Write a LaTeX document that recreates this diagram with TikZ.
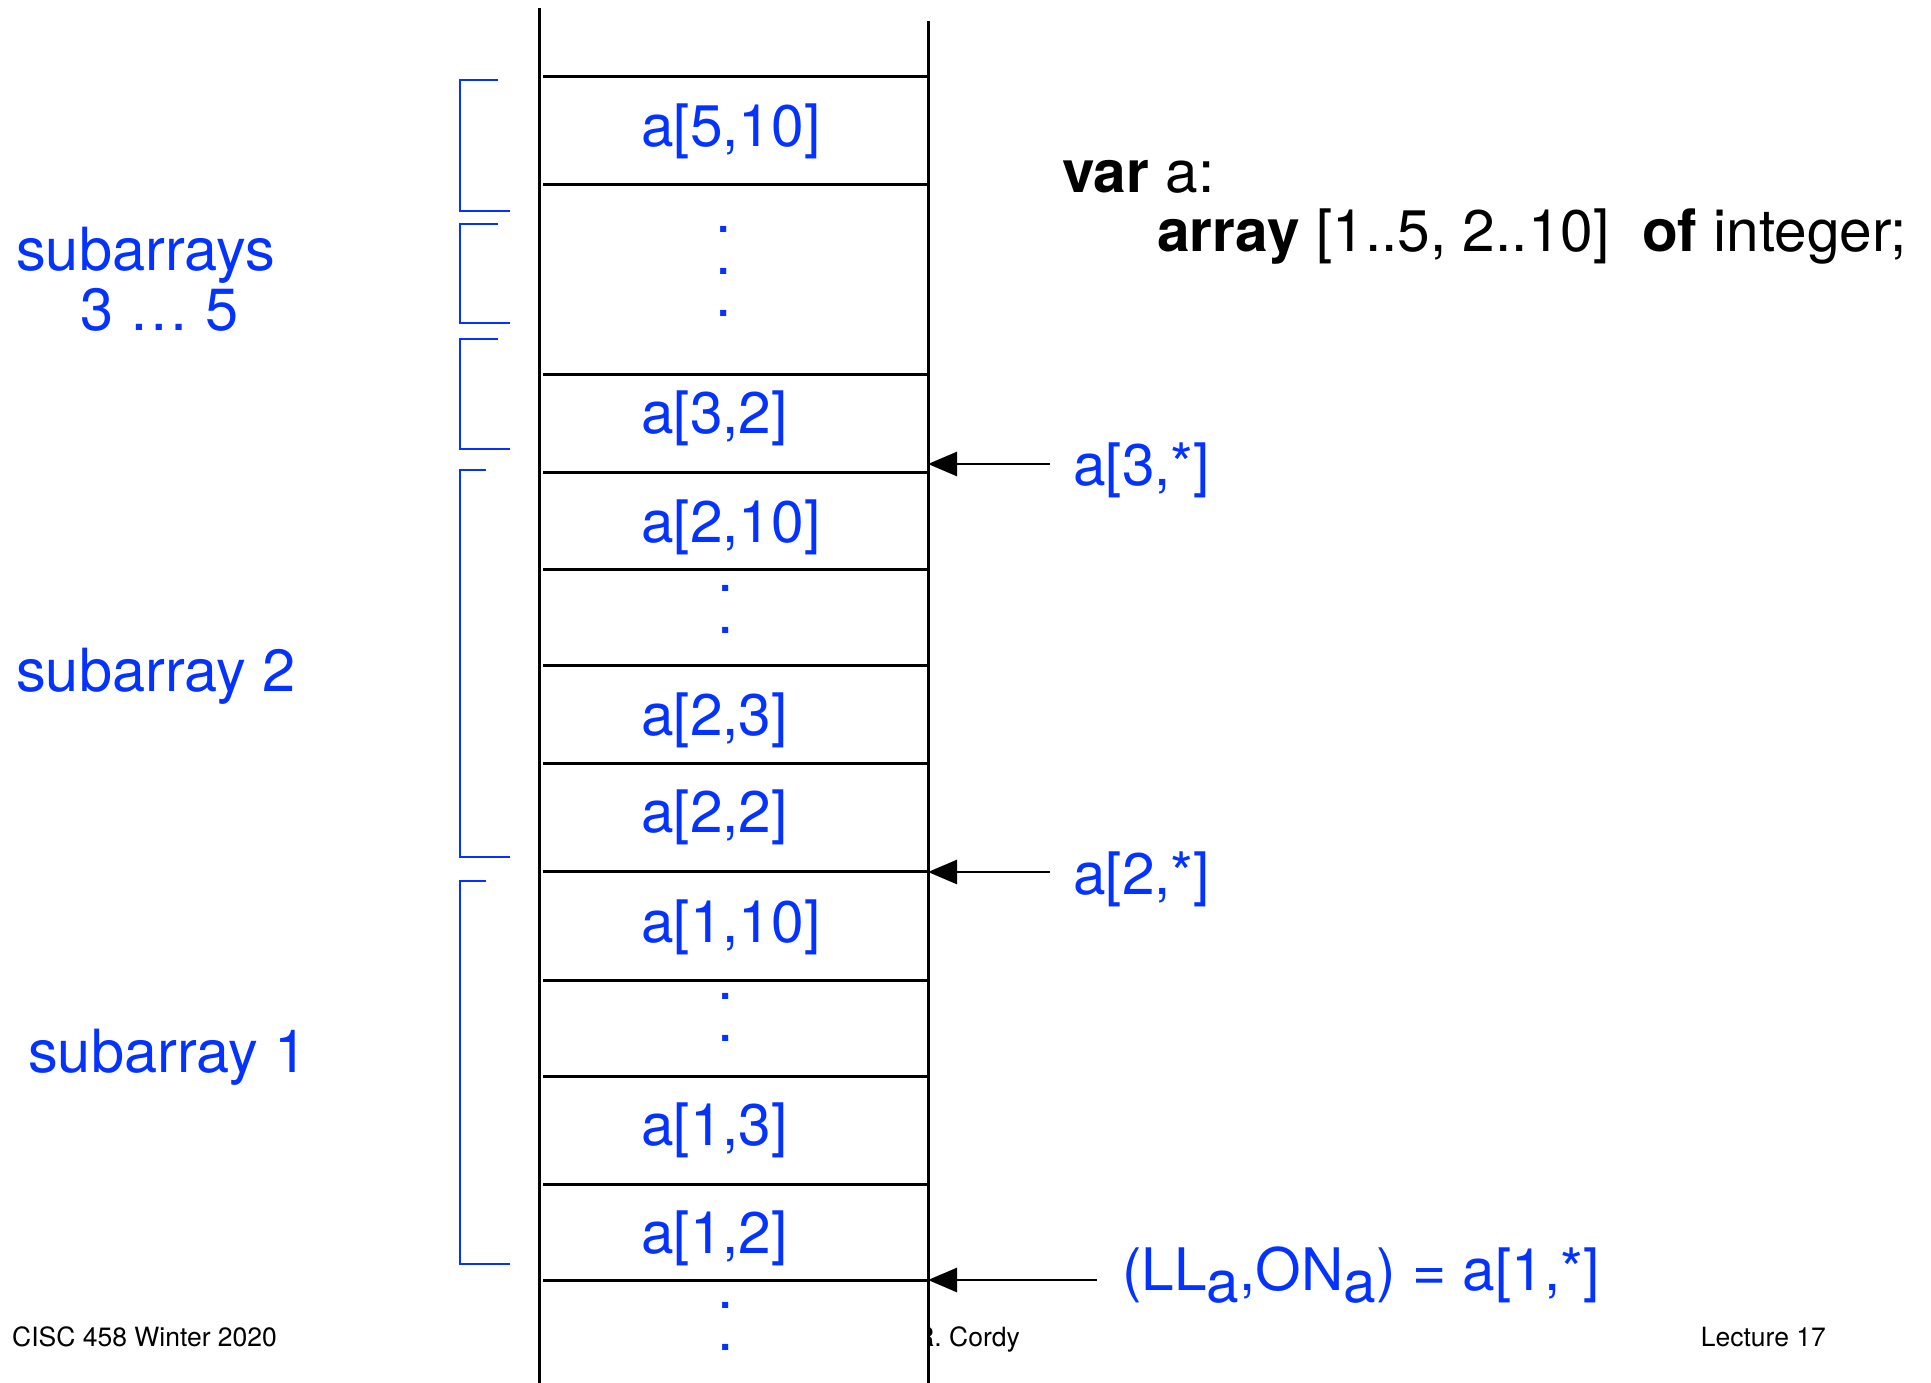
\documentclass[tikz,border=0pt]{standalone}
\usepackage{fontspec}
\setmainfont{TeX Gyre Heros}
\usetikzlibrary{arrows.meta}
\definecolor{lblblue}{RGB}{4,51,255}
% a column of periods, one every 42pt
\newcommand{\dotcol}[1]{\vbox{\baselineskip=42pt\lineskiplimit=-100pt\foreach \k in {1,...,#1}{\hbox{.}}}}
\begin{document}
\begin{tikzpicture}[x=1pt,y=-1pt,
  wall/.style={line width=3pt, black},
  cellrule/.style={line width=3pt, black},
  brk/.style={line width=2.4pt, lblblue},
  bigtext/.style={inner sep=0pt, font=\fontsize{58.6}{70}\selectfont},
  cell/.style={bigtext, anchor=base west, text=lblblue},
  side/.style={cell, font=\fontsize{59.5}{70}\selectfont},
  vdot/.style={bigtext, anchor=south, text=lblblue},
  decl/.style={bigtext, anchor=base west, text=black},
  ptr/.style={line width=2.6pt, black, -{Triangle[length=29pt,width=24pt]}},
  foot/.style={inner sep=0pt, anchor=base west, font=\fontsize{26.5}{31}\selectfont}]

\useasboundingbox (0,0) rectangle (1931,1383);

% footer line (the centre entry runs under the memory column)
\node[foot] (ftl) at (12,1346) {CISC 458 Winter 2020};
\node[foot, anchor=base east] (ftc) at (1020,1346) {R. Cordy};
\node[foot, anchor=base east] (ftr) at (1826,1346) {Lecture 17};

% memory column: opaque strip with its two walls
\fill[white] (539,0) rectangle (928,1383);
\draw[wall] (539,8) -- (539,1383);
\draw[wall] (928,21) -- (928,1383);

% cell boundaries
\foreach \y in {77,185,374,472,569,665,763,871,980,1076,1184,1280}
  \draw[cellrule] (543,\y) -- (928,\y);

% cell contents
\node[cell] (c510) at (641,147)  {a[5,10]};
\node[cell] (c32)  at (641,433)  {a[3,2]};
\node[cell] (c210) at (641,542)  {a[2,10]};
\node[cell] (c23)  at (641,735)  {a[2,3]};
\node[cell] (c22)  at (641,832)  {a[2,2]};
\node[cell] (c110) at (641,942)  {a[1,10]};
\node[cell] (c13)  at (641,1145) {a[1,3]};
\node[cell] (c12)  at (641,1253) {a[1,2]};

% elided cells
\node[vdot] (e5) at (724,316.5)  {\dotcol{3}};
\node[vdot] (e2) at (726,633.5)  {\dotcol{2}};
\node[vdot] (e1) at (726,1041.5) {\dotcol{2}};
\node[vdot] (e0) at (726,1350.5) {\dotcol{2}};

% subarray brackets
\draw[brk] (498,80)  -- (460,80)  -- (460,211)  -- (510,211);
\draw[brk] (498,224) -- (460,224) -- (460,323)  -- (510,323);
\draw[brk] (498,339) -- (460,339) -- (460,449)  -- (510,449);
\draw[brk] (486,470) -- (460,470) -- (460,857)  -- (510,857);
\draw[brk] (486,881) -- (460,881) -- (460,1264) -- (510,1264);

% subarray labels
\node[side] (sa35a) at (16,271)  {subarrays};
\node[side] (sa35b) at (80,330)  {3 … 5};
\node[side] (sa2)   at (16,691)  {subarray 2};
\node[side] (sa1)   at (28,1072) {subarray 1};

% declaration
\node[decl] (v1) at (1062,193) {\textbf{var} a:};
\node[decl] (v2) at (1157,252) {\textbf{array} [1..5, 2..10]\ \ \textbf{of} integer;};

% row pointers
\node[cell] (r3) at (1073,485)  {a[3,*]};
\node[cell] (r2) at (1073,894)  {a[2,*]};
\node[cell] (r1) at (1122,1290) {(LL\raisebox{-12pt}{a},ON\raisebox{-12pt}{a}) = a[1,*]};

\coordinate (p3) at (928,464);
\coordinate (p2) at (928,872);
\coordinate (p1) at (928,1280);
\coordinate (s3) at (1050,464);
\coordinate (s2) at (1050,872);
\coordinate (s1) at (1097,1280);
\draw[ptr] (s3) -- (p3);
\draw[ptr] (s2) -- (p2);
\draw[ptr] (s1) -- (p1);
\end{tikzpicture}
\end{document}
